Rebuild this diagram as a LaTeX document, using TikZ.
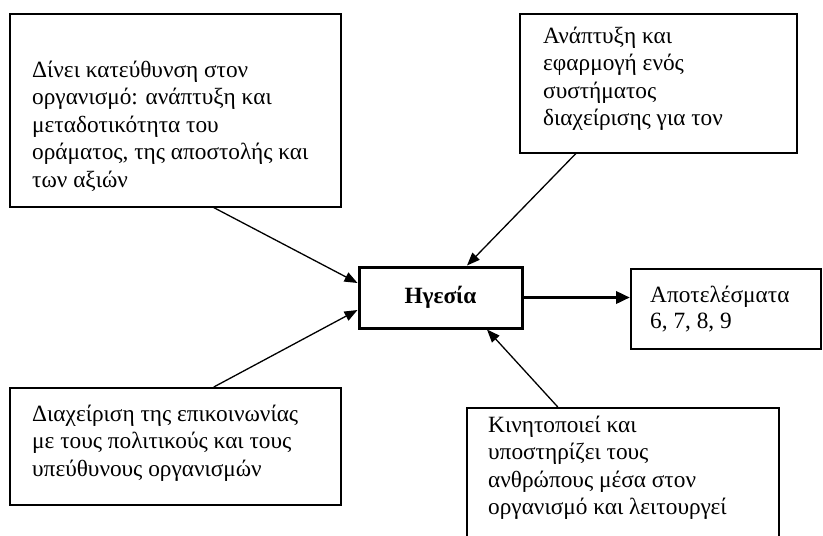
\documentclass[tikz,border=0pt]{standalone}
\usepackage{fontspec}
\setmainfont{Liberation Serif}
\usetikzlibrary{arrows.meta}
\newcommand\lns[1]{\vtop{\baselineskip=27.5pt\lineskiplimit=-20pt #1}}
\begin{document}
\begin{tikzpicture}[x=1pt,y=-1pt,
  box/.style={draw, line width=1.6pt, anchor=north west, inner sep=0pt},
  txt/.style={anchor=base west, inner sep=0pt, font=\fontsize{23.3}{27.5}\selectfont},
  arr/.style={line width=1.3pt, -{Triangle[length=13pt,width=10pt]}},
  big/.style={line width=3.5pt, -{Triangle[length=14pt,width=12pt]}}]
\useasboundingbox (0,0) rectangle (823,536);
\clip (0,0) rectangle (823,536);
\fill[white] (0,0) rectangle (823,536);
% boxes
\node[box, minimum width=331pt, minimum height=193pt] (b1) at (9,13) {};
\node[box, minimum width=277pt, minimum height=139pt] (b2) at (519,13) {};
\node[box, minimum width=331pt, minimum height=117pt] (b3) at (9,387) {};
\node[box, minimum width=312pt, minimum height=160pt] (b4) at (466,407) {};
\node[box, minimum width=190pt, minimum height=80pt] (out) at (630,268) {};
\node[draw, line width=3pt, minimum width=163pt, minimum height=61pt, inner sep=0pt,
  font=\fontsize{23.3}{27}\selectfont\bfseries] (hg) at (440.5,297.5) {Ηγεσία};
% texts
\node[txt] (t1) at (32,77) {\lns{\hbox{Δίνει κατεύθυνση στον}\hbox{οργανισμό: ανάπτυξη και}\hbox{μεταδοτικότητα του}\hbox{οράματος, της αποστολής και}\hbox{των αξιών}}};
\node[txt] (t2) at (543,43) {\lns{\hbox{Ανάπτυξη και}\hbox{εφαρμογή ενός}\hbox{συστήματος}\hbox{διαχείρισης για τον}}};
\node[txt] (t3) at (32,421) {\lns{\hbox{Διαχείριση της επικοινωνίας}\hbox{με τους πολιτικούς και τους}\hbox{υπεύθυνους οργανισμών}}};
\node[txt] (t4) at (488,432) {\lns{\hbox{Κινητοποιεί και}\hbox{υποστηρίζει τους}\hbox{ανθρώπους μέσα στον}\hbox{οργανισμό και λειτουργεί}}};
\node[txt] (t5) at (650,302) {\vtop{\baselineskip=26pt\hbox{Αποτελέσματα}\hbox{6, 7, 8, 9}}};
% connectors
\draw[arr] ([xshift=38.5pt]b1.south) -- ([yshift=14.5pt]hg.west);
\draw[arr] ([xshift=-82.5pt]b2.south) -- ([xshift=26.5pt]hg.north);
\draw[arr] ([xshift=38.5pt]b3.north) -- ([yshift=-12.5pt]hg.west);
\draw[arr] ([xshift=-65pt]b4.north) -- ([xshift=46.5pt]hg.south);
\draw[big] (hg.east) -- (hg.east -| out.west);
\end{tikzpicture}
\end{document}
